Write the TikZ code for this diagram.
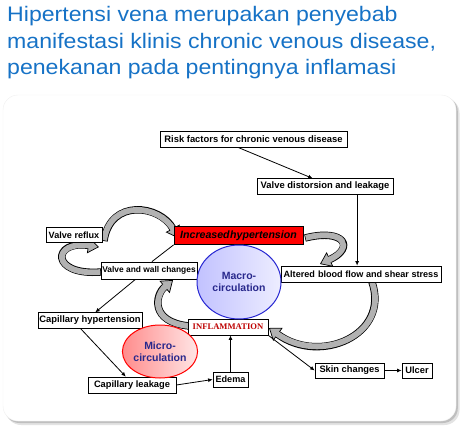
\documentclass[tikz,border=0pt]{standalone}
\usepackage{fontspec}
\setmainfont{Liberation Sans}
\newfontfamily\titlefont[FakeStretch=1.1]{Liberation Sans}
\newfontfamily\inflfont{Liberation Serif}
\usetikzlibrary{shapes.geometric,arrows.meta,calc}
\definecolor{titleblue}{RGB}{22,114,198}
\definecolor{bandgray}{RGB}{178,178,178}
\definecolor{macroedge}{RGB}{40,40,210}
\definecolor{macrotext}{RGB}{40,40,140}
\definecolor{inflred}{RGB}{190,0,0}
\pgfdeclarelayer{cardlayer}
\pgfdeclarelayer{bandlayer}
\pgfsetlayers{cardlayer,bandlayer,main}
\tikzset{
  box/.style={draw=black, line width=0.7pt, fill=white, inner sep=0pt,
    minimum height=15.5pt, text=black, font=\bfseries\fontsize{9.3}{10}\selectfont},
  conn/.style={draw=black, line width=0.8pt, -{Latex[length=4.5pt,width=4pt]}},
  plainconn/.style={draw=black, line width=0.8pt},
  bandout/.style={draw=black, line width=7.4pt,
    -{Triangle[length=11pt,width=16pt,line width=0.7pt,fill=bandgray]}},
  bandin/.style={draw=bandgray, line width=5.8pt, shorten >=9.5pt, shorten <=0.7pt},
  titletext/.style={anchor=base west, inner sep=0pt, text=titleblue,
    font=\titlefont\fontsize{21}{24}\selectfont},
  circ/.style={ellipse, inner sep=0pt, align=center, text=macrotext,
    font=\bfseries\fontsize{10.5}{12.5}\selectfont},
}
\begin{document}
\begin{tikzpicture}[x=1pt,y=-1pt]
\useasboundingbox (0,0) rectangle (465,438);
% card
\begin{pgfonlayer}{cardlayer}
\fill[gray!22, rounded corners=15pt] (6,98) rectangle (459.5,425);
\fill[gray!50, rounded corners=15pt] (4.5,96.5) rectangle (457.8,423);
\filldraw[fill=white, draw=gray!12, rounded corners=15pt] (3,95) rectangle (456,421);
\end{pgfonlayer}
% title
\node[titletext] (t1) at (7,21.7) {Hipertensi vena merupakan penyebab};
\node[titletext] (t2) at (7,48.5) {manifestasi klinis chronic venous disease,};
\node[titletext] (t3) at (7,75) {penekanan pada pentingnya inflamasi};
% boxes
\node[box, minimum width=187pt, font=\bfseries\fontsize{9.4}{10}\selectfont] (risk) at (253.5,139.5) {Risk factors for chronic venous disease};
\node[box, minimum width=136pt, font=\bfseries\fontsize{9.4}{10}\selectfont] (vdist) at (325,186.5) {Valve distorsion and leakage};
\node[box, minimum width=160pt, minimum height=16pt, font=\bfseries\fontsize{9.1}{10}\selectfont] (altered) at (361,274) {Altered\,\,blood flow and shear stress};
\node[box, fill=red, minimum width=129pt, minimum height=18pt, font=\bfseries\itshape\fontsize{10.6}{12}\selectfont] (incr) at (238.5,235.5) {Increased\hspace{0.5pt}hypertension};
\node[box, minimum width=56pt, font=\bfseries\fontsize{9.1}{10}\selectfont] (vreflux) at (74,235) {Valve reflux};
\node[box, minimum width=96pt, minimum height=17pt, font=\bfseries\fontsize{8.4}{10}\selectfont] (vwall) at (149,270.5) {Valve and wall changes};
\node[box, minimum width=104pt, font=\bfseries\fontsize{9.4}{10}\selectfont] (caphyp) at (90,320.5) {Capillary hypertension};
\node[box, minimum width=88pt, minimum height=16pt] (capleak) at (132,385) {Capillary leakage};
\node[box, minimum width=35pt, minimum height=15pt, font=\bfseries\fontsize{9.1}{10}\selectfont] (edema) at (230.5,379.5) {Edema};
\node[box, minimum width=69pt, minimum height=15pt] (skin) at (349.5,370.5) {Skin changes};
\node[box, minimum width=30pt, minimum height=15pt] (ulcer) at (417,370.5) {Ulcer};
\node[box, minimum width=80pt, minimum height=16pt, text=inflred, font=\inflfont\bfseries\fontsize{8.6}{10}\selectfont] (inflam) at (228,327) {INFLAMMATION};
% ellipses
\node[circ, draw=macroedge, line width=1pt, left color=blue!24, right color=blue!7,
  minimum width=84pt, minimum height=74pt] (macro) at (239,282) {Macro-\\circulation};
\node[circ, draw=red, line width=1pt, left color=red!45, right color=red!10,
  minimum width=68pt, minimum height=53pt] (micro) at (160,351.5) {Micro-\\circulation};
% connector points
\coordinate (r1) at ($(risk.south west)!0.42!(risk.south east)$);
\coordinate (d1) at ($(vdist.north west)!0.41!(vdist.north east)$);
\coordinate (d2) at ($(vdist.south west)!0.735!(vdist.south east)$);
\coordinate (w1) at ($(vwall.north west)!0.53!(vwall.north east)$);
\coordinate (w2) at ($(vwall.south west)!0.36!(vwall.south east)$);
\coordinate (h1) at ($(caphyp.north west)!0.55!(caphyp.north east)$);
\coordinate (h2) at ($(caphyp.south west)!0.41!(caphyp.south east)$);
\coordinate (l1) at ($(capleak.north west)!0.43!(capleak.north east)$);
% connectors
\draw[conn] (r1) -- (d1);
\draw[conn] (d2) -- (d2 |- altered.north);
\draw[plainconn] (incr.south west) -- (w1);
\draw[conn] (w2) -- (h1);
\draw[conn] (h2) -- (l1);
\draw[conn] (capleak.east) -- (edema.west);
\draw[conn] (edema.north) -- (edema.north |- inflam.south);
\draw[conn] (inflam.south east) -- (skin.west);
\draw[conn] (skin.east) -- (ulcer.west);
% block arrows
\coordinate (a0) at (104,241);
\coordinate (a1) at (178,238);
\coordinate (b0) at (101,272);
\coordinate (b1) at (99,247);
\coordinate (c0) at (189,326);
\coordinate (c1) at (173,280);
\coordinate (e0) at (305,238);
\coordinate (e1) at (320,264);
\coordinate (f0) at (372,282);
\coordinate (f1) at (269,328);
\begin{pgfonlayer}{bandlayer}
\foreach \p/\q/\ca/\cb in {a0/a1/{(110,198)}/{(160,205)},
                           b0/b1/{(50,276)}/{(52,240)},
                           c0/c1/{(150,322)}/{(155,295)},
                           e0/e1/{(345,228)}/{(355,248)},
                           f0/f1/{(390,335)}/{(320,365)}}{
  \draw[bandout] (\p) .. controls \ca and \cb .. (\q);
  \draw[bandin] (\p) .. controls \ca and \cb .. (\q);
}
\end{pgfonlayer}
\end{tikzpicture}
\end{document}
